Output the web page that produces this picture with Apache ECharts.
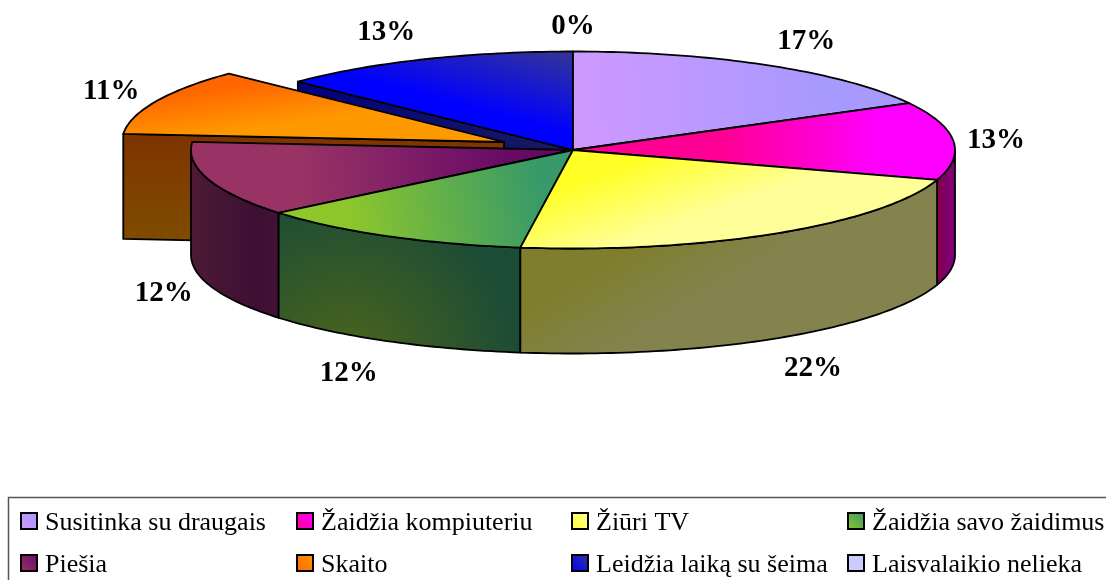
<!DOCTYPE html>
<html>
<head>
<meta charset="utf-8">
<style>html,body{margin:0;padding:0;background:#fff}#c{width:1106px;height:580px}</style>
<script src="https://cdn.jsdelivr.net/npm/echarts@6/dist/echarts.min.js"></script>
</head>
<body>
<div id="c"></div>
<script>
const categories = ['Susitinka su draugais','Žaidžia kompiuteriu','Žiūri TV','Žaidžia savo žaidimus','Piešia','Skaito','Leidžia laiką su šeima','Laisvalaikio nelieka'];
const values = [17.1,12.8,22.3,11.8,12.3,10.9,12.8,0];
const exploded = [0,0,0,0,0,1,0,0];

const FONT = '"Liberation Serif","Times New Roman",serif';
const geo = {cx:573, cy:150, rx:382, ry:98.5, depth:105, ex:-69, ey:-8};
// label distance from the centre along each slice's mid angle (horizontal, vertical)
const labelReach = [[456,129],[425,122],[450,132],[460,133],[429,123],[431,128],[477,130],[0,125]];
const lin = (x,y,x2,y2,stops)=>new echarts.graphic.LinearGradient(x,y,x2,y2,stops.map(c=>({offset:c[0],color:c[1]})),true);
const rad = (x,y,r,stops)=>new echarts.graphic.RadialGradient(x,y,r,stops.map(c=>({offset:c[0],color:c[1]})),true);
const topFill = [
  lin(590,100,820,85,[[0,'#CC99FF'],[1,'#A899FF']]),
  lin(725,135,880,140,[[0,'#FF0095'],[1,'#FF00FF']]),
  lin(625,165,650,235,[[0,'#FFFF26'],[1,'#FFFF99']]),
  lin(350,228,540,190,[[0,'#8EC62C'],[1,'#379A68']]),
  lin(300,172,510,150,[[0,'#993366'],[1,'#660A66']]),
  lin(240,85,246,130,[[0,'#FF6600'],[1,'#FF9900']]),
  lin(552,134,573,55,[[0.05,'#0000FF'],[1,'#333399']]),
  '#CCCCFF'
];
const wallFill = [
  null,
  lin(936,0,956,0,[[0,'#800040'],[0.5,'#80006A'],[1,'#800080']]),
  lin(600,262,640,330,[[0,'#7E7E2C'],[1,'#84824D']]),
  rad(345,365,175,[[0,'#4D661A'],[1,'#1C4C36']]),
  lin(192,0,278,0,[[0,'#4C1A35'],[0.75,'#3D0F33'],[1,'#421233']]),
  lin(0,133,0,240,[[0,'#7F3300'],[1,'#7F4C00']]),
  lin(299,0,573,0,[[0,'#000080'],[1,'#1A1A60']]),
  null
];
const legendFill = [
  ['#CC99FF','#A899FF'],['#FF0095','#FF00FF'],['#FFFF33','#FFFF99'],['#8EC62C','#379A68'],
  ['#993366','#660A66'],['#FF6600','#FF9900'],['#0000FF','#333399'],['#CCCCFF','#CCCCFF']
];
// painter's order, back to front
const drawRank = [1,2,6,5,4,3,0,7];

const total = values.reduce((a,b)=>a+b,0);
const starts = values.map((_,i)=>values.slice(0,i).reduce((a,b)=>a+b,0)/total*Math.PI*2);
const pt = (th,ox,oy)=>[geo.cx+ox+geo.rx*Math.sin(th), geo.cy+oy-geo.ry*Math.cos(th)];
function arc(a,b,ox,oy,dy){
  const n=Math.max(2,Math.ceil(Math.abs(b-a)/0.02)),out=[];
  for(let k=0;k<=n;k++){const p=pt(a+(b-a)*k/n,ox,oy);out.push([p[0],p[1]+dy]);}
  return out;
}
const line={stroke:'#000',lineWidth:1.8,lineJoin:'round'};
function renderItem(params,api){
  const i=params.seriesIndex;
  const v=api.value(0), a=starts[i], b=a+v/total*Math.PI*2, mid=(a+b)/2;
  const ox=exploded[i]?geo.ex:0, oy=exploded[i]?geo.ey:0;
  const apex=[geo.cx+ox,geo.cy+oy], kids=[];
  const poly=(points,fill)=>kids.push({type:'polygon',shape:{points},style:Object.assign({fill},line)});
  if(v>0){
    const A=pt(a,ox,oy), d=geo.depth;
    // cut face seen from the front
    if(Math.sin(a)<0 && Math.cos(a)>0)
      poly([apex,A,[A[0],A[1]+d],[apex[0],apex[1]+d]],wallFill[i]);
    // rim: the part of the arc facing the viewer
    const s=Math.max(a,Math.PI/2), e=Math.min(b,Math.PI*1.5);
    if(e>s) poly(arc(s,e,ox,oy,0).concat(arc(e,s,ox,oy,d)),wallFill[i]);
    poly([apex].concat(arc(a,b,ox,oy,0)),topFill[i]);
  }
  const r=labelReach[i];
  kids.push({type:'text',z2:100,style:{
    x:apex[0]+r[0]*Math.sin(mid),
    y:apex[1]+2-r[1]*Math.cos(mid)+(Math.cos(mid)<0?geo.depth:0),
    text:Math.round(v/total*100)+'%',font:'bold 29px '+FONT,fill:'#000',align:'center',verticalAlign:'middle'}});
  return {type:'group',children:kids};
}
const series=categories.map((name,i)=>({
  type:'custom',name,coordinateSystem:'none',renderItem,animation:false,silent:true,
  z:2+drawRank[i],data:[[values[i]]],
  itemStyle:{color:new echarts.graphic.LinearGradient(0,1,1,0,[{offset:0,color:legendFill[i][0]},{offset:1,color:legendFill[i][1]}])}
}));
const legendColumns=[[0,4],[1,5],[2,6],[3,7]];
const legendLeft=[20,296,571,847];
const legend=legendColumns.map((col,j)=>({
  orient:'vertical',left:legendLeft[j],top:510,itemWidth:16,itemHeight:16,itemGap:16,padding:0,
  data:col.map(k=>categories[k]),selectedMode:false,icon:'rect',
  itemStyle:{borderColor:'#000',borderWidth:2},
  formatter:n=>'{t|'+n+'}',
  textStyle:{fontFamily:FONT,fontSize:26,color:'#000',
    rich:{t:{fontFamily:FONT,fontSize:26,color:'#000',padding:[4,0,0,3]}}}
}));
const chart=echarts.init(document.getElementById('c'),null,{renderer:'canvas'});
chart.setOption({
  animation:false,backgroundColor:'#fff',
  legend,series,
  graphic:[{type:'rect',z:0,shape:{x:8.5,y:497.5,width:1200,height:200},style:{fill:'none',stroke:'#555',lineWidth:1.5}}]
});
</script>
</body>
</html>
